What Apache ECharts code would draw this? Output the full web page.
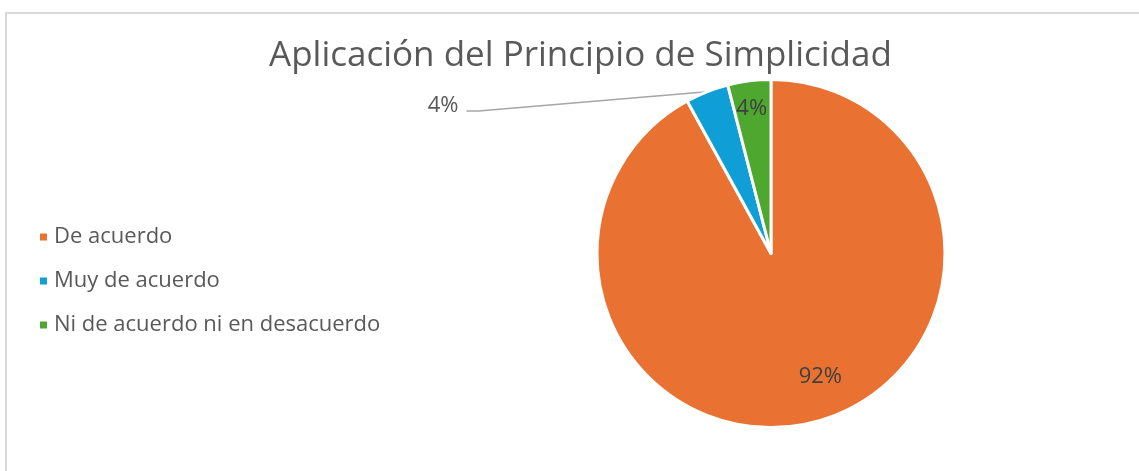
<!DOCTYPE html>
<html>
<head>
<meta charset="utf-8">
<title>Aplicación del Principio de Simplicidad</title>
<script src="https://cdn.jsdelivr.net/npm/echarts@6/dist/echarts.min.js"></script>
<style>
  html, body { margin: 0; padding: 0; background: #fff; }
  #chart { width: 1139px; height: 471px; }
</style>
</head>
<body>
<div id="chart"></div>
<script>
// datos
var categorias = ["De acuerdo", "Muy de acuerdo", "Ni de acuerdo ni en desacuerdo"];
var respuestas = [23, 1, 1];
var colores = ["#E97132", "#0F9ED5", "#4EA72E"];

var chart = echarts.init(document.getElementById("chart"));

var option = {
  backgroundColor: "#fff",
  color: colores,
  animation: false,
  graphic: [
    {
      type: "rect",
      shape: { x: 6, y: 13, width: 1150, height: 480 },
      style: { fill: "none", stroke: "#d9d9d9", lineWidth: 2 },
      silent: true
    }
  ],
  title: {
    text: "Aplicación del Principio de Simplicidad",
    left: 264,
    top: 34,
    textStyle: {
      fontFamily: "Open Sans",
      fontSize: 35,
      fontWeight: "normal",
      color: "#595959"
    }
  },
  legend: {
    orient: "vertical",
    left: 38,
    top: 225,
    padding: 0,
    icon: "rect",
    itemWidth: 9,
    itemHeight: 9,
    itemGap: 20,
    textStyle: {
      fontFamily: "Open Sans",
      fontSize: 22,
      lineHeight: 24,
      color: "#595959",
      padding: [0, 0, 0, 1]
    },
    data: categorias
  },
  series: [
    {
      type: "pie",
      center: [771, 253.5],
      radius: [0, 174],
      startAngle: 90,
      clockwise: true,
      itemStyle: { borderColor: "#fff", borderWidth: 3 },
      label: {
        formatter: "{d}%",
        fontFamily: "Open Sans",
        fontSize: 22,
        color: "#404040"
      },
      labelLine: {
        show: true,
        length: 4,
        length2: 242,
        lineStyle: { color: "#a6a6a6", width: 1.5 }
      },
      // la etiqueta exterior baja un poco, como en Excel
      labelLayout: function (p) {
        if (p.dataIndex !== 1 || !p.labelLinePoints) return {};
        var pts = p.labelLinePoints;
        var mid = p.labelRect.y + p.labelRect.height / 2 + 18;
        var endX = pts[2][0] + 3;
        return {
          y: mid,
          labelLinePoints: [pts[0], [endX + 12, mid + 5], [endX, mid + 5]]
        };
      },
      data: categorias.map(function (nombre, i) {
        var item = { name: nombre, value: respuestas[i] };
        if (i === 0) item.label = { position: "inside", offset: [27, 36] };
        if (i === 1) item.label = { position: "outside", color: "#595959" };
        if (i === 2) item.label = { position: "inside", offset: [-8, -55] };
        return item;
      })
    }
  ]
};

chart.setOption(option);
</script>
</body>
</html>
